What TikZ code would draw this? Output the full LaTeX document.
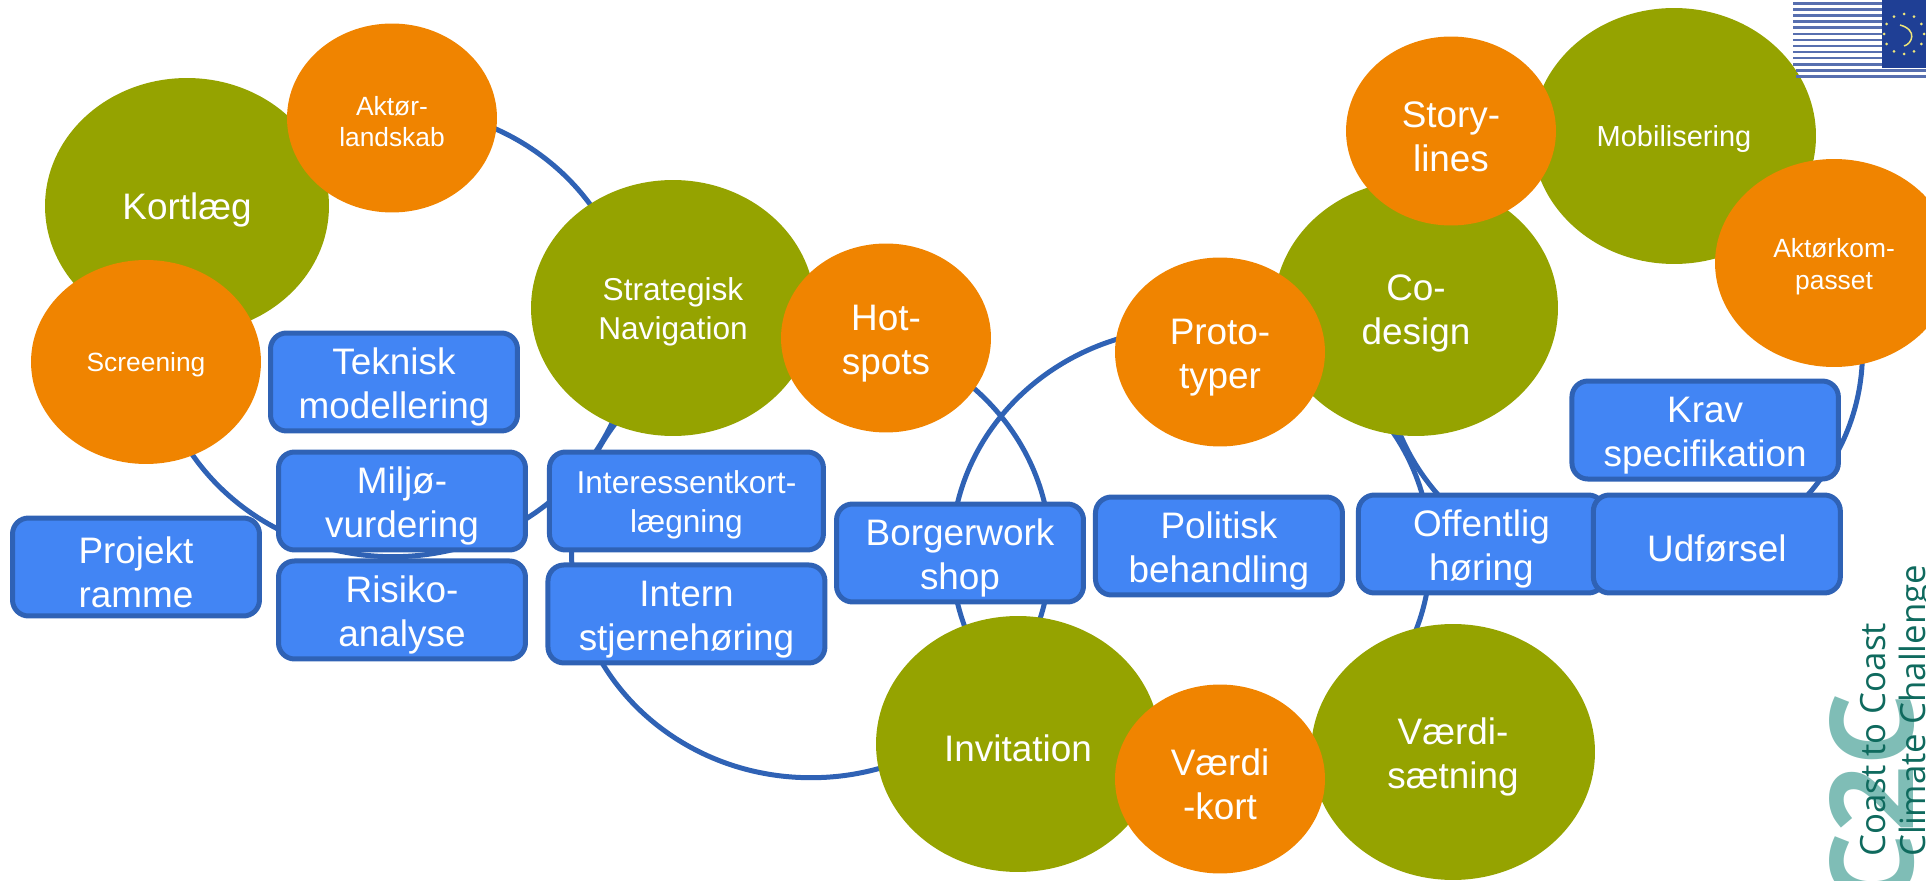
\documentclass[tikz,border=0pt]{standalone}
\usepackage{fontspec}
\setmainfont{Liberation Sans}
\newfontfamily\logofont{Open Sans}
\usetikzlibrary{shapes,positioning,backgrounds,calc}
\pgfdeclarelayer{background}
\pgfdeclarelayer{foreground}
\pgfsetlayers{background,main,foreground}
\definecolor{ringcol}{HTML}{2F62B5}
\definecolor{boxcol}{HTML}{4285F4}
\definecolor{olivecol}{HTML}{95A300}
\definecolor{orangecol}{HTML}{F08400}
\definecolor{logocol}{HTML}{7FBDB6}
\definecolor{logotextcol}{HTML}{0F6A5E}
\definecolor{flagcol}{HTML}{1F3F95}
\definecolor{starcol}{HTML}{EFE67A}
\tikzstyle{ring} = [shape=ellipse, draw=ringcol, line width=.1cm, minimum width=9.58cm, minimum height=8.99cm, inner sep=0pt]
\tikzstyle{flagline} = [flagcol!75, line width=.05cm]
\tikzset{
  big text/.style = {font=\fontsize{21}{25}\selectfont},
  mid text/.style = {font=\fontsize{18}{22}\selectfont},
  small text/.style = {font=\fontsize{15}{18}\selectfont},
  strut height/.store in = \strutheight,
  strut height = 2.2em,
  one line/.style = {strut height = .95em},
  basic blob/.style = {
    shape = ellipse,
    text = white,
    align = center,
    inner sep = 0pt,
    execute at begin node = {\rule{0pt}{\strutheight}},
  },
  olive blob/.style = {
    basic blob,
    fill = olivecol,
    minimum width = 5.68cm,
    minimum height = 5.12cm,
  },
  orange blob/.style = {
    basic blob,
    fill = orangecol,
    minimum width = 4.2cm,
    minimum height = 3.78cm,
  },
  task/.style = {
    shape = rectangle,
    rounded corners = .32cm,
    draw = ringcol,
    fill = boxcol,
    text = white,
    align = center,
    line width = .1cm,
    inner sep = 0pt,
    big text,
    minimum width = 4.94cm,
    minimum height = 1.96cm,
    execute at begin node = {\rule{0pt}{\strutheight}},
  },
  logo text/.style = {
    rotate = 90,
    anchor = base west,
    text = logotextcol,
    inner sep = 0pt,
    font = \logofont\fontsize{19.8}{20}\selectfont,
  },
}

\begin{document}
\begin{tikzpicture}[x=.02cm,y=-.02cm]
    \useasboundingbox (0,0) rectangle (1926,881);

    % rings
    \begin{pgfonlayer}{background}
        \node [ring] (ring1) at (393,332) {};
        \node [ring] (ring2) at (811,553) {};
        \node [ring] (ring3) at (1191,553) {};
        \node [ring] (ring4) at (1623,352) {};
    \end{pgfonlayer}

    % left
    \node [olive blob,big text,one line] (kortlaeg) at (187,206) {Kortlæg};
    \node [orange blob,small text] (aktor) at (392,118) {Aktør-\\landskab};
    \node [orange blob,small text,one line,minimum width=4.6cm,minimum height=4.08cm] (screening) at (146,362) {Screening};
    \node [olive blob,mid text] (strategisk) at (673,308) {Strategisk\\Navigation};
    \node [orange blob,big text] (hotspots) at (886,338) {Hot-\\spots};

    % right
    \node [olive blob,big text] (codesign) at (1416,308) {Co-\\design};
    \node [orange blob,big text] (proto) at (1220,352) {Proto-\\typer};
    \node [olive blob,one line,font=\fontsize{16.5}{20}\selectfont] (mobil) at (1674,136) {Mobilisering};
    \node [orange blob,big text] (story) at (1451,131) {Story-\\lines};
    \node [orange blob,small text,minimum width=4.76cm,minimum height=4.16cm] (kompas) at (1834,263) {Aktørkom-\\passet};

    % bottom
    \node [olive blob,big text,one line] (invitation) at (1018,744) {Invitation};
    \node [olive blob,big text] (saetning) at (1453,752) {Værdi-\\sætning};
    \node [orange blob,big text] (vaerdi) at (1220,779) {Værdi\\-kort};

    % tasks
    \node [task] (teknisk) at (394,382) {Teknisk\\modellering};
    \node [task] (miljo) at (402,501) {Miljø-\\vurdering};
    \node [task,below=.12cm of miljo] (risiko) {Risiko-\\analyse};
    \node [task,mid text,minimum width=5.48cm,right=.38cm of miljo] (interesse) {Interessentkort-\\lægning};
    \node [task,minimum width=5.54cm,below=.2cm of interesse] (intern) {Intern\\stjernehøring};
    \node [task] (projekt) at (136,567) {Projekt\\ramme};

    \node [task] (borger) at (960,553) {Borgerwork\\shop};
    \node [task,right=.14cm of borger,yshift=.14cm] (politisk) {Politisk\\behandling};
    \node [task,minimum width=4.92cm,right=.22cm of politisk,yshift=.04cm] (offentlig) {Offentlig\\høring};
    \node [task,one line,right=-.32cm of offentlig] (udforsel) {Udførsel};
    \node [task,minimum width=5.33cm,above=.22cm of udforsel,xshift=-.234cm] (krav) {Krav\\specifikation};

    % flag
    \foreach \i in {0,...,10}
        \draw [flagline] (1793,{3.3+6.1*\i}) -- (1882,{3.3+6.1*\i});
    \draw [flagline] (1796,70.4) -- (1926,70.4);
    \draw [flagline] (1796,76.6) -- (1926,76.6);
    \node [shape=rectangle,fill=flagcol,minimum width=.88cm,minimum height=1.36cm,inner sep=0pt] (flag) at (1904,34) {};
    \foreach \a in {30,60,...,360}
        \fill [starcol] ($(flag)+(\a:20)$) circle (1.5);
    \draw [starcol,line width=.03cm] (1900,25) .. controls (1918,30) and (1912,44) .. (1904,46);

    % logo
    \node [rotate=90,anchor=west,inner sep=0pt,text=logocol,font=\logofont\bfseries\fontsize{66}{66}\selectfont] (ctoc) at (1872,907) {C2C};
    \node [logo text] (coast) at (1885,857) {Coast to Coast};
    \node [logo text] (climate) at (1925,857) {Climate Challenge};
\end{tikzpicture}
\end{document}
